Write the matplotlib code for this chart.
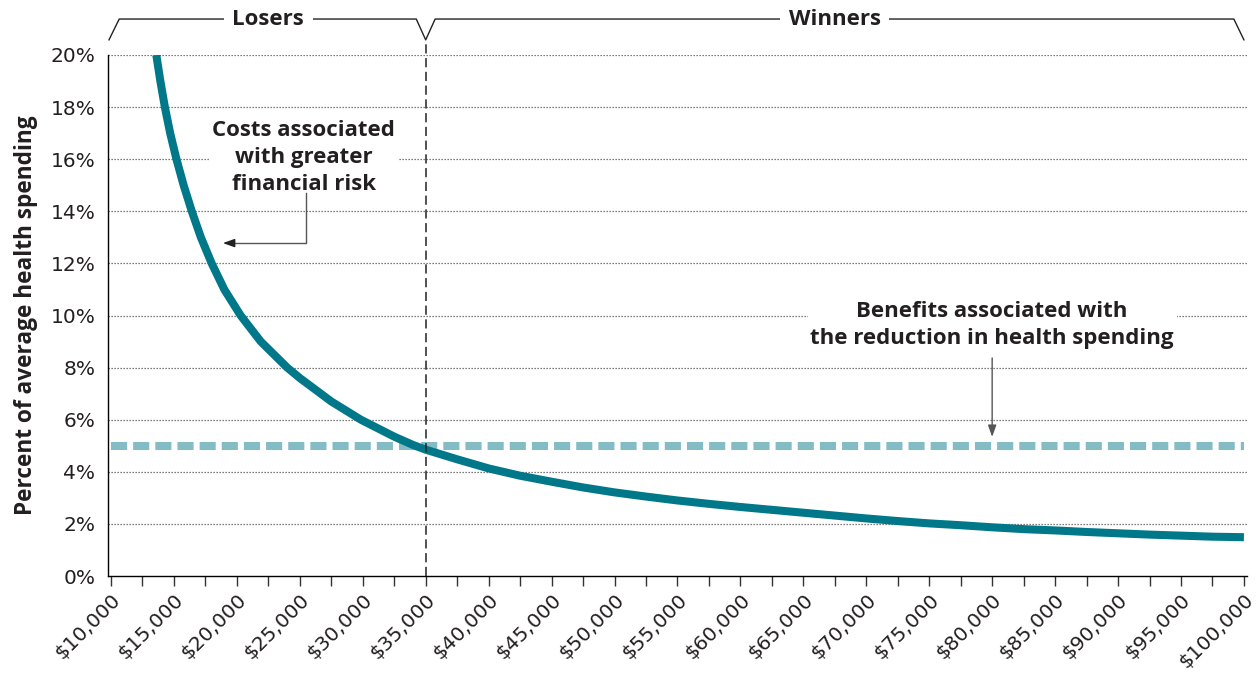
import matplotlib
matplotlib.use("Agg")
import matplotlib.pyplot as plt
import matplotlib.transforms as mtransforms
from matplotlib.ticker import MultipleLocator, FixedLocator

plt.rcParams['font.family'] = ['Open Sans', 'DejaVu Sans']

# income levels and cost of financial risk, % of avg health spending
income = [13600, 13920, 14280, 14700, 15200, 15770, 16420, 17140, 18000, 19000,
          20300, 21900, 24000, 25000, 27500, 29850, 32500, 34000, 35000, 37500,
          40000, 42500, 45000, 47500, 50000, 52500, 55000, 57500, 60000, 62500,
          65000, 67500, 70000, 72500, 75000, 77500, 80000, 82500, 85000, 87500,
          90000, 92500, 95000, 97500, 100000]
cost = [20.0, 19.0, 18.0, 17.0, 16.0, 15.0, 14.0, 13.0, 12.0, 11.0,
        10.0, 9.0, 8.0, 7.6, 6.7, 6.0, 5.35, 5.03, 4.85, 4.48,
        4.13, 3.85, 3.62, 3.40, 3.21, 3.05, 2.90, 2.77, 2.65, 2.54,
        2.43, 2.32, 2.21, 2.11, 2.02, 1.95, 1.87, 1.80, 1.75, 1.69,
        1.64, 1.59, 1.55, 1.51, 1.49]

benefit_x = [10000, 100000]
benefit = [5.0, 5.0]

breakeven = 35000
x_ticks = list(range(10000, 100001, 5000))
y_ticks = list(range(0, 21, 2))

TEAL = '#00788a'
LIGHT = '#84bcc6'
TXT = '#231f20'
NUMFONT = ['DejaVu Sans']

fig = plt.figure(figsize=(12.57, 6.73), dpi=100)
ax = fig.add_axes([0.0859, 0.1441, 0.9061, 0.7742])

ax.set_xlim(9760, 100240)
ax.set_ylim(0, 20)

# gridlines
for y in y_ticks[1:]:
    ax.axhline(y, color='#555555', lw=0.9, ls=(0, (1, 1.4)), zorder=0)

ax.plot(benefit_x, benefit, color=LIGHT, lw=5.8, dashes=(2.0, 0.75),
        solid_capstyle='butt', dash_capstyle='butt', zorder=2)
ax.plot(income, cost, color=TEAL, lw=5.8, solid_capstyle='butt',
        solid_joinstyle='round', zorder=3)

# break-even divider
bt = mtransforms.blended_transform_factory(ax.transData, ax.transAxes)
ax.plot([breakeven, breakeven], [0, 1.029], transform=bt, color='#222222',
        lw=1.1, dashes=(6, 3), clip_on=False, zorder=4)

# bracket on top
ytop, ybot = 1.069, 1.029
ax.plot([9840, 10650, 34250, breakeven, 35750, 99200, 100000],
        [ybot, ytop, ytop, ybot, ytop, ytop, ybot],
        transform=bt, color='#222222', lw=1.0, clip_on=False)
ax.text((10000 + breakeven) / 2, ytop, 'Losers', transform=bt, ha='center',
        va='center', fontsize=16, fontweight='bold', color=TXT,
        bbox=dict(facecolor='white', edgecolor='none', pad=6))
ax.text((breakeven + 100000) / 2, ytop, 'Winners', transform=bt, ha='center',
        va='center', fontsize=16, fontweight='bold', color=TXT,
        bbox=dict(facecolor='white', edgecolor='none', pad=6))

# axes styling
for s in ['top', 'right']:
    ax.spines[s].set_visible(False)
ax.spines['left'].set_linewidth(1.0)
ax.spines['bottom'].set_linewidth(1.0)

ax.xaxis.set_major_locator(FixedLocator(x_ticks))
ax.xaxis.set_minor_locator(MultipleLocator(2500))
ax.set_xticklabels(['\\$' + f'{v:,}' for v in x_ticks], rotation=45, ha='right',
                   va='top', rotation_mode='anchor', fontsize=14.5, color=TXT,
                   family=NUMFONT)
ax.tick_params(axis='x', which='both', direction='out', length=7, width=1.0,
               color='#333333', pad=3)

ax.set_yticks(y_ticks)
ax.set_yticklabels([f'{v}%' for v in y_ticks], fontsize=14.5, color=TXT,
                   family=NUMFONT)
ax.tick_params(axis='y', length=0, pad=9)

ax.set_ylabel('Percent of average health spending', fontsize=16.3,
              fontweight='bold', color=TXT)
ax.yaxis.set_label_coords(-0.061, 0.5)

# annotations
ax.text(25300, 16.05, 'Costs associated\nwith greater\nfinancial risk',
        ha='center', va='center', fontsize=16, fontweight='bold', color=TXT,
        linespacing=1.37, zorder=5,
        bbox=dict(facecolor='white', edgecolor='none', pad=2))
ax.plot([25470, 25470, 19400], [14.7, 12.78, 12.78], color='#555555', lw=1.0, zorder=5)
ax.annotate('', xy=(18890, 12.78), xytext=(19500, 12.78),
            arrowprops=dict(arrowstyle='-|>,head_length=0.7,head_width=0.25',
                            color='#222222', lw=1.0, shrinkA=0, shrinkB=0), zorder=6)

ax.text(80000, 9.62, 'Benefits associated with\nthe reduction in health spending',
        ha='center', va='center', fontsize=16, fontweight='bold', color=TXT,
        linespacing=1.37, zorder=5,
        bbox=dict(facecolor='white', edgecolor='none', pad=2))
ax.annotate('', xy=(80000, 5.34), xytext=(80000, 8.37),
            arrowprops=dict(arrowstyle='-|>,head_length=0.7,head_width=0.25',
                            color='#555555', lw=1.0, shrinkA=0, shrinkB=0), zorder=6)

fig.savefig('out.png', dpi=100)
